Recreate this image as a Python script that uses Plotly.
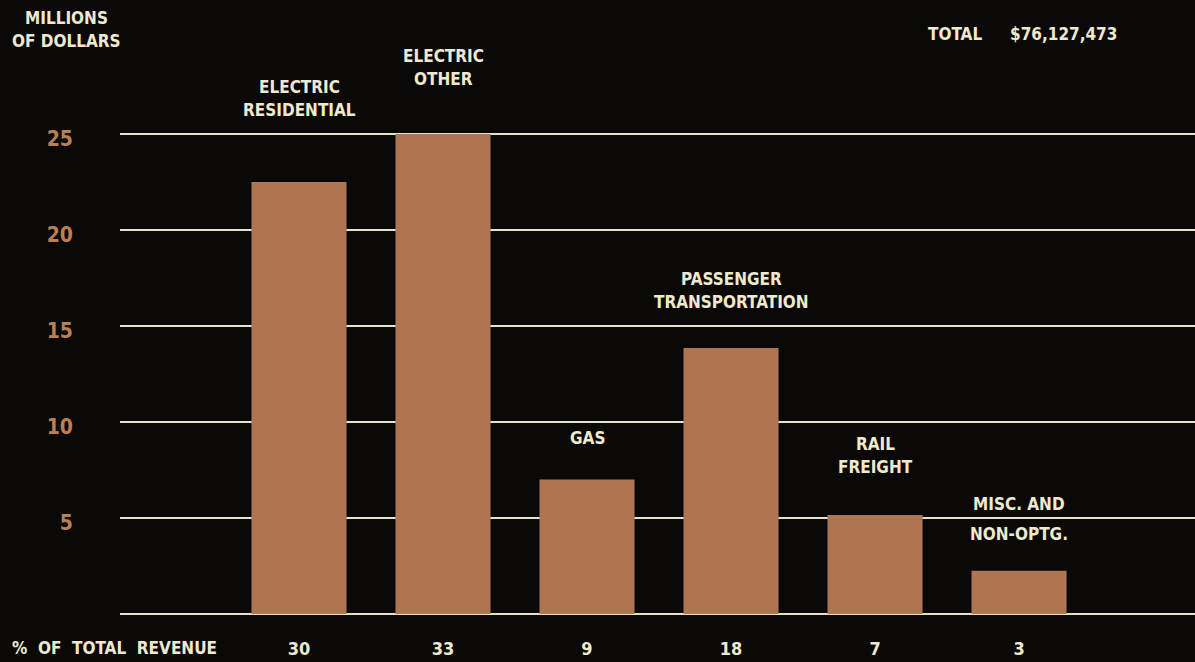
import plotly.graph_objects as go

categories = ["Electric Residential", "Electric Other", "Gas",
              "Passenger Transportation", "Rail Freight", "Misc. and Non-Optg."]
label_lines = [["ELECTRIC", "RESIDENTIAL"], ["ELECTRIC", "OTHER"], ["GAS"],
               ["PASSENGER", "TRANSPORTATION"], ["RAIL", "FREIGHT"], ["MISC. AND", "NON-OPTG."]]
revenue_millions = [22.5, 25.0, 7.0, 13.85, 5.15, 2.25]
pct_of_total = [30, 33, 9, 18, 7, 3]
y_ticks = [5, 10, 15, 20, 25]
total_text = "$76,127,473"

# label anchor positions (data units, layout only)
label_y = [26.85, 28.45, 9.15, 16.85, 8.25, 4.95]
label_spacing = [23, 23, 23, 23, 23, 30]

BG = "#0b0907"
BAR = "#ae7553"
TICK = "#bb7f52"
TXT = "#efe9cf"
GRID = "#e6e2c8"
FONT = "Liberation Sans Narrow, DejaVu Sans Condensed, Arial Narrow, sans-serif"
FS = 17

fig = go.Figure()
fig.add_trace(go.Bar(x=categories, y=revenue_millions, marker=dict(color=BAR, line=dict(width=0)),
                     hoverinfo="x+y"))

annotations = []
for cat, lines, ly, sp in zip(categories, label_lines, label_y, label_spacing):
    n = len(lines)
    for i, line in enumerate(lines):
        off = (n - 1) / 2 * sp - i * sp
        annotations.append(dict(x=cat, y=ly, xref="x", yref="y", text="<b>%s</b>" % line,
                                showarrow=False, yshift=off, xanchor="center", yanchor="middle",
                                font=dict(family=FONT, size=FS, color=TXT)))

annotations.append(dict(x=-0.050, y=1 - 18 / 614, xref="paper", yref="paper", text="<b>MILLIONS</b>",
                        showarrow=False, xanchor="center", yanchor="middle",
                        font=dict(family=FONT, size=FS, color=TXT)))
annotations.append(dict(x=-0.050, y=1 - 41 / 614, xref="paper", yref="paper", text="<b>OF DOLLARS</b>",
                        showarrow=False, xanchor="center", yanchor="middle",
                        font=dict(family=FONT, size=FS, color=TXT)))
annotations.append(dict(x=(926 - 120) / 1075, y=1 - 34 / 614, xref="paper", yref="paper", text="<b>TOTAL</b>",
                        showarrow=False, xanchor="left", yanchor="middle",
                        font=dict(family=FONT, size=FS, color=TXT)))
annotations.append(dict(x=(1008 - 120) / 1075, y=1 - 34 / 614, xref="paper", yref="paper",
                        text="<b>%s</b>" % total_text,
                        showarrow=False, xanchor="left", yanchor="middle",
                        font=dict(family=FONT, size=FS, color=TXT)))
annotations.append(dict(x=(10 - 120) / 1075, y=(614 - 648) / 614, xref="paper", yref="paper",
                        text="<b>%  OF  TOTAL  REVENUE</b>",
                        showarrow=False, xanchor="left", yanchor="middle",
                        font=dict(family=FONT, size=FS, color=TXT)))

fig.update_layout(
    width=1195, height=662,
    margin=dict(l=120, r=0, t=0, b=48),
    paper_bgcolor=BG, plot_bgcolor=BG,
    bargap=0.34,
    showlegend=False,
    annotations=annotations,
    xaxis=dict(
        range=[-1.243, 6.222],
        tickmode="array", tickvals=categories, ticktext=["<b>%d</b>" % p for p in pct_of_total],
        tickfont=dict(family=FONT, size=18, color=TXT),
        showgrid=False, zeroline=False, showline=False, ticks="",
        ticklabelstandoff=22,
    ),
    yaxis=dict(
        range=[0, 614 / 19.2],
        tickmode="array", tickvals=y_ticks, ticktext=["<b>%d</b>" % v for v in y_ticks],
        tickfont=dict(family=FONT, size=21, color=TICK),
        showgrid=True, gridcolor=GRID, gridwidth=2,
        zeroline=True, zerolinecolor=GRID, zerolinewidth=2,
        showline=False, ticks="",
        ticklabelstandoff=46,
        ticklabelshift=5,
    ),
)

fig.write_html("out.html")
